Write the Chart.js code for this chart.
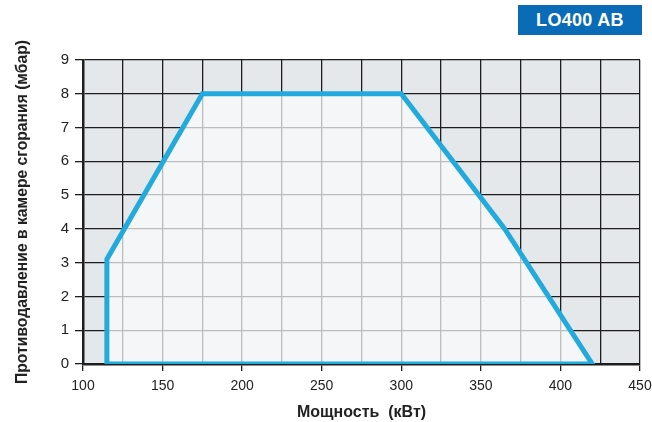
<!DOCTYPE html>
<html>
<head>
<meta charset="utf-8">
<script src="https://cdn.jsdelivr.net/npm/chart.js@4/dist/chart.umd.min.js"></script>
<style>
    html, body { margin: 0; padding: 0; background: #fff; }
    #wrap { position: relative; width: 652px; height: 422px; }
    #badge {
        position: absolute; left: 518px; top: 5px; width: 124px; height: 30px;
        background: #0a6cb7; color: #fff; font: 900 18px "Liberation Sans", Arial, sans-serif;
        line-height: 30px; text-align: center; letter-spacing: 0.3px;
    }
</style>
</head>
<body>
<div id="wrap">
    <canvas id="chart" width="652" height="422"></canvas>
    <div id="badge">LO400 AB</div>
</div>
<script>
// Working field outline (kW, mbar), closed along the x axis
const powerKw = [115, 115, 175, 300, 365, 420, 115];
const pressureMbar = [0, 3.1, 8, 8, 4, 0, 0];

const xMin = 100, xMax = 450, xStep = 25, xLabelStep = 50;
const yMin = 0, yMax = 9, yStep = 1;

const font = '"Liberation Sans", Arial, Helvetica, sans-serif';
const dark = '#1e1e1e';

const outline = powerKw.map((x, i) => ({ x: x, y: pressureMbar[i] }));

// plot area background
const areaBg = {
    id: 'areaBg',
    beforeDraw: function (chart) {
        const a = chart.chartArea, ctx = chart.ctx;
        ctx.save();
        ctx.fillStyle = '#e5e8eb';
        ctx.fillRect(a.left, a.top, a.right - a.left, a.bottom - a.top);
        ctx.restore();
    }
};

new Chart(document.getElementById('chart'), {
    type: 'scatter',
    data: {
        datasets: [{
            // outline stroke
            data: outline,
            showLine: true,
            borderColor: '#22aadc',
            borderWidth: 5,
            borderJoinStyle: 'miter',
            fill: false,
            pointRadius: 0,
            tension: 0
        }, {
            // light field, filled down to 0
            data: outline.slice(0, -1),
            showLine: true,
            borderWidth: 0,
            borderColor: 'rgba(0,0,0,0)',
            backgroundColor: 'rgba(250, 251, 251, 0.72)',
            fill: 'origin',
            pointRadius: 0,
            tension: 0
        }]
    },
    options: {
        responsive: false,
        animation: false,
        layout: { padding: { top: 60, right: 12, left: 0, bottom: 0 } },
        plugins: { legend: { display: false }, tooltip: { enabled: false } },
        scales: {
            x: {
                type: 'linear', min: xMin, max: xMax,
                afterFit: function (s) { s.height = 58; s.paddingRight = 12; },
                border: { color: dark, width: 2.5 },
                grid: {
                    color: dark, lineWidth: 1.3, tickLength: 7,
                    tickColor: ctx => (ctx.tick && ctx.tick.value % xLabelStep === 0) ? dark : 'rgba(0,0,0,0)'
                },
                ticks: {
                    stepSize: xStep, color: '#222', padding: 7, maxRotation: 0, autoSkip: false,
                    font: { family: font, size: 14 },
                    callback: v => (v % xLabelStep === 0) ? v : ''
                },
                title: {
                    display: true, text: 'Мощность  (кВт)', color: '#222',
                    font: { family: font, size: 16, weight: 'bold' }, padding: { top: 10, bottom: 0 }
                }
            },
            y: {
                type: 'linear', min: yMin, max: yMax,
                afterFit: function (s) { s.width = 83; },
                border: { color: dark, width: 2.5 },
                grid: { color: dark, lineWidth: 1.3, tickLength: 8, tickColor: dark },
                ticks: {
                    stepSize: yStep, color: '#222', padding: 6,
                    font: { family: font, size: 15 }
                },
                title: {
                    display: true, text: 'Противодавление в камере сгорания (мбар)', color: '#222',
                    font: { family: font, size: 15.7, weight: 'bold' }, padding: { top: 13, bottom: 4 }
                }
            }
        }
    },
    plugins: [areaBg]
});
</script>
</body>
</html>
